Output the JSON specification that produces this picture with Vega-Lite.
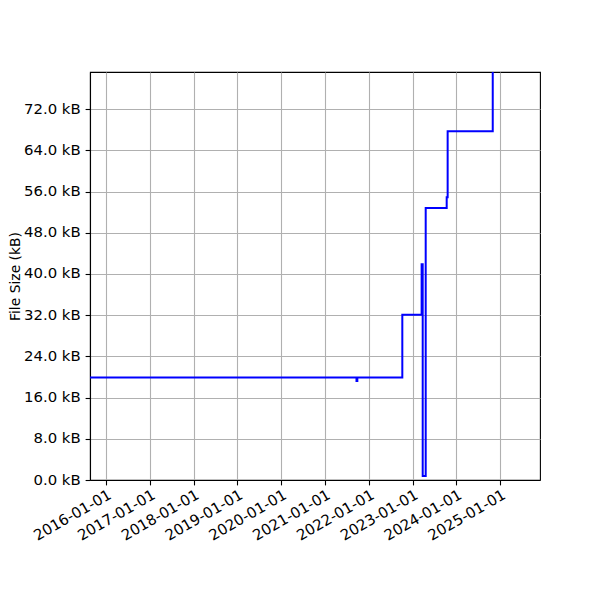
{
  "$schema": "https://vega.github.io/schema/vega-lite/v6.json",
  "autosize": "none",
  "width": 450,
  "height": 408,
  "padding": {"left": 90, "top": 72, "right": 60, "bottom": 120},
  "background": "white",
  "config": {
    "font": "DejaVu Sans",
    "view": {"stroke": "black", "strokeWidth": 1.1},
    "axis": {
      "labelFont": "DejaVu Sans",
      "titleFont": "DejaVu Sans",
      "labelFontSize": 14.9,
      "titleFontSize": 13.9,
      "labelColor": "black",
      "titleColor": "black",
      "titleFontWeight": "normal",
      "domainColor": "black",
      "domainWidth": 1.1,
      "tickColor": "black",
      "tickWidth": 1.1,
      "tickSize": 4.9,
      "labelPadding": 3.5,
      "gridColor": "#b0b0b0",
      "gridWidth": 1.1,
      "gridOpacity": 1
    }
  },
  "data": {
    "values": [
      {"date": "2015-08-21", "kb": 19.9},
      {"date": "2021-09-20", "kb": 19.2},
      {"date": "2021-09-27", "kb": 19.9},
      {"date": "2022-10-07", "kb": 32.1},
      {"date": "2023-03-17", "kb": 41.9},
      {"date": "2023-03-26", "kb": 0.8},
      {"date": "2023-04-20", "kb": 52.8},
      {"date": "2023-10-12", "kb": 54.9},
      {"date": "2023-10-20", "kb": 67.7},
      {"date": "2024-10-30", "kb": 90},
      {"date": "2025-11-28", "kb": 90}
    ]
  },
  "mark": {"type": "line", "interpolate": "step-after", "color": "#0000ff", "strokeWidth": 2, "clip": true},
  "encoding": {
    "x": {
      "field": "date",
      "type": "temporal",
      "scale": {
        "type": "utc",
        "domain": [
          {"year": 2015, "month": 8, "date": 21, "utc": true},
          {"year": 2025, "month": 11, "date": 28, "utc": true}
        ]
      },
      "axis": {
        "title": null,
        "labelExpr": "utcFormat(datum.value, '%Y-%m-%d')",
        "labelAngle": -30,
        "labelAlign": "right",
        "labelBaseline": "top",
        "labelPadding": 2,
        "labelOverlap": false,
        "labelBound": false,
        "values": [
          {"year": 2016, "month": 1, "date": 1, "utc": true},
          {"year": 2017, "month": 1, "date": 1, "utc": true},
          {"year": 2018, "month": 1, "date": 1, "utc": true},
          {"year": 2019, "month": 1, "date": 1, "utc": true},
          {"year": 2020, "month": 1, "date": 1, "utc": true},
          {"year": 2021, "month": 1, "date": 1, "utc": true},
          {"year": 2022, "month": 1, "date": 1, "utc": true},
          {"year": 2023, "month": 1, "date": 1, "utc": true},
          {"year": 2024, "month": 1, "date": 1, "utc": true},
          {"year": 2025, "month": 1, "date": 1, "utc": true}
        ]
      }
    },
    "y": {
      "field": "kb",
      "type": "quantitative",
      "scale": {"domain": [0, 79.2], "nice": false, "zero": false},
      "axis": {
        "title": "File Size (kB)",
        "titlePadding": 1,
        "labelPadding": 4.9,
        "values": [0, 8, 16, 24, 32, 40, 48, 56, 64, 72],
        "labelExpr": "format(datum.value, '.1f') + ' kB'",
        "labelOverlap": false
      }
    }
  }
}
